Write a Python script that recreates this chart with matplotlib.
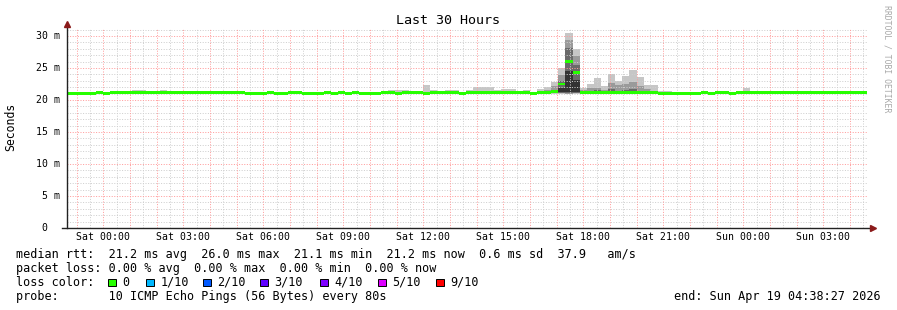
import matplotlib
matplotlib.use("Agg")
import numpy as np
import matplotlib.pyplot as plt
from matplotlib.patches import Rectangle

plt.rcParams["font.family"] = ["DejaVu Sans Mono", "DejaVu Sans"]

# --- data (x in hours relative to Sat 00:00, 16 min consolidation bins) ---
BIN_H = 16 / 60
X_START = -(1 + 21 / 60 + 33 / 3600)      # Fri 22:38:27
X_END = X_START + 30                        # Sun 04:38:27

bin_index = list(range(-6, 108))

median_ms = [
    21.0, 21.0, 21.0, 21.0, 21.0, 21.2, 21.0, 21.2, 21.2, 21.2,
    21.2, 21.2, 21.2, 21.2, 21.2, 21.2, 21.2, 21.2, 21.2, 21.2,
    21.2, 21.2, 21.2, 21.2, 21.2, 21.2, 21.0, 21.0, 21.0, 21.2,
    21.0, 21.0, 21.2, 21.2, 21.0, 21.0, 21.0, 21.2, 21.0, 21.2,
    21.0, 21.2, 21.0, 21.0, 21.0, 21.2, 21.2, 21.0, 21.2, 21.2,
    21.2, 21.0, 21.2, 21.2, 21.2, 21.2, 21.0, 21.2, 21.2, 21.2,
    21.2, 21.2, 21.2, 21.2, 21.2, 21.2, 21.0, 21.2, 21.2, 21.4,
    22.5, 26.0, 24.3, 21.2, 21.2, 21.2, 21.2, 21.2, 21.2, 21.2,
    21.2, 21.2, 21.2, 21.2, 21.0, 21.0, 21.0, 21.0, 21.0, 21.0,
    21.2, 21.0, 21.2, 21.2, 21.0, 21.2, 21.2, 21.2, 21.2, 21.2,
    21.2, 21.2, 21.2, 21.2, 21.2, 21.2, 21.2, 21.2, 21.2, 21.2,
    21.2, 21.2, 21.2, 21.2,
]

smoke_min = [
    21.0, 21.0, 21.0, 21.0, 21.0, 21.2, 21.0, 21.2, 21.2, 21.2,
    21.2, 21.2, 21.2, 21.2, 21.2, 21.2, 21.2, 21.2, 21.2, 21.2,
    21.2, 21.2, 21.2, 21.2, 21.2, 21.2, 21.0, 21.0, 21.0, 21.2,
    21.0, 21.0, 21.2, 21.2, 21.0, 21.0, 21.0, 21.2, 21.0, 21.2,
    21.0, 21.2, 21.0, 21.0, 21.0, 21.2, 21.2, 21.0, 21.2, 21.2,
    21.2, 21.0, 21.2, 21.2, 21.2, 21.2, 21.0, 21.2, 21.2, 21.2,
    21.2, 21.2, 21.0, 21.0, 21.0, 21.0, 21.0, 21.0, 21.0, 20.95,
    20.95, 20.9, 20.95, 21.0, 21.0, 21.0, 21.0, 21.0, 21.0, 21.0,
    21.0, 21.0, 21.0, 21.0, 21.0, 21.0, 21.0, 21.0, 21.0, 21.0,
    21.2, 21.0, 21.2, 21.2, 21.0, 21.2, 21.2, 21.2, 21.2, 21.2,
    21.2, 21.2, 21.2, 21.2, 21.2, 21.2, 21.2, 21.2, 21.2, 21.2,
    21.2, 21.2, 21.2, 21.2,
]

smoke_max = [
    21.0, 21.0, 21.0, 21.0, 21.0, 21.2, 21.0, 21.2, 21.2, 21.2,
    21.5, 21.5, 21.2, 21.2, 21.5, 21.2, 21.2, 21.2, 21.2, 21.2,
    21.2, 21.2, 21.2, 21.2, 21.2, 21.2, 21.0, 21.0, 21.0, 21.2,
    21.0, 21.0, 21.2, 21.2, 21.0, 21.0, 21.0, 21.2, 21.0, 21.2,
    21.0, 21.2, 21.0, 21.0, 21.0, 21.2, 21.5, 21.5, 21.5, 21.2,
    21.2, 22.3, 21.5, 21.2, 21.5, 21.5, 21.0, 21.6, 22.1, 22.1,
    22.0, 21.5, 21.7, 21.7, 21.45, 21.55, 21.3, 21.7, 22.1, 22.8,
    25.0, 30.5, 28.0, 21.8, 22.5, 23.4, 22.2, 24.1, 23.0, 23.75,
    24.7, 23.65, 22.35, 22.3, 21.45, 21.45, 21.0, 21.0, 21.0, 21.0,
    21.2, 21.0, 21.2, 21.2, 21.0, 21.4, 21.8, 21.2, 21.2, 21.2,
    21.2, 21.2, 21.2, 21.2, 21.2, 21.2, 21.2, 21.2, 21.2, 21.2,
    21.2, 21.2, 21.2, 21.2,
]

mid_bins = [56, 57, 61, 62, 63, 64, 65, 66, 67, 68, 69, 70, 71, 72, 73, 74, 75, 76]
mid_lo = [21.1, 21.1, 21.1, 21.1, 21.05, 21.05, 21.0, 21.05, 21.1, 21.1,
          21.1, 21.1, 21.1, 21.1, 21.1, 21.1, 21.1, 21.1]
mid_hi = [21.45, 21.45, 21.4, 21.6, 22.2, 23.95, 29.4, 26.8, 21.5, 21.8,
          21.95, 21.6, 22.6, 22.3, 22.5, 22.8, 22.2, 21.7]

dark_bins = [63, 64, 65, 66, 69, 71, 73, 74]
dark_lo = [21.15, 21.15, 21.1, 21.15, 21.15, 21.2, 21.2, 21.2]
dark_hi = [21.6, 22.9, 28.1, 25.5, 21.5, 21.7, 21.6, 21.7]

black_bins = [64, 65, 66]
black_lo = [21.3, 21.25, 21.3]
black_hi = [21.9, 24.5, 23.2]

tick_hours = [0, 3, 6, 9, 12, 15, 18, 21, 24, 27]
tick_labels = ["Sat 00:00", "Sat 03:00", "Sat 06:00", "Sat 09:00", "Sat 12:00",
               "Sat 15:00", "Sat 18:00", "Sat 21:00", "Sun 00:00", "Sun 03:00"]
y_ticks = [0, 5, 10, 15, 20, 25, 30]
y_labels = ["0  ", "5 m", "10 m", "15 m", "20 m", "25 m", "30 m"]

loss_labels = ["0", "1/10", "2/10", "3/10", "4/10", "5/10", "9/10"]
loss_colors = ["#26ff00", "#00b8ff", "#0059ff", "#5e00ff", "#7e00ff", "#dd00ff", "#ff0000"]
loss_box_x = [108, 146, 203, 260, 320, 378, 436]

W, H = 897, 310
GREEN = "#26ff00"

fig = plt.figure(figsize=(W / 100, H / 100), dpi=100)
fig.patch.set_facecolor("white")
ax = fig.add_axes([67 / W, 82 / H, 800 / W, 200 / H])
ax.set_xlim(X_START, X_END)
ax.set_ylim(0, 31.25)
ax.axis("off")


def bins_x(idx):
    return np.array(idx) * BIN_H


# smoke layers
ax.bar(bins_x(bin_index), np.array(smoke_max) - np.array(smoke_min), bottom=smoke_min,
       width=BIN_H, align="edge", color="#c6c6c6", linewidth=0, zorder=1)
ax.bar(bins_x(mid_bins), np.array(mid_hi) - np.array(mid_lo), bottom=mid_lo,
       width=BIN_H, align="edge", color="#9a9a9a", linewidth=0, zorder=1.1)
ax.bar(bins_x(dark_bins), np.array(dark_hi) - np.array(dark_lo), bottom=dark_lo,
       width=BIN_H, align="edge", color="#6a6a6a", linewidth=0, zorder=1.2)
ax.bar(bins_x(black_bins), np.array(black_hi) - np.array(black_lo), bottom=black_lo,
       width=BIN_H, align="edge", color="#333333", linewidth=0, zorder=1.3)

# grid, dotted
dots = (0, (1, 1.6))
grid_kw = dict(lw=0.72, ls=dots)
for v in range(1, 32):
    if v % 5:
        ax.axhline(v, color="#cfcfcf", zorder=1.5, **grid_kw)
for v in range(5, 31, 5):
    ax.axhline(v, color="#ff9c9c", zorder=1.6, **grid_kw)
for k in range(-2, 58):
    h = k * 0.5
    if X_START < h < X_END:
        if k % 2:
            ax.axvline(h, color="#cfcfcf", zorder=1.5, **grid_kw)
        else:
            ax.axvline(h, color="#ff9c9c", zorder=1.6, **grid_kw)

# median line (drawn as thin bars like smokeping)
ax.bar(bins_x(bin_index), 0.46, bottom=np.array(median_ms) - 0.23, width=BIN_H,
       align="edge", color=GREEN, linewidth=0, zorder=3)

# axes with arrows
ax.plot([0, 0], [0, 1.025], transform=ax.transAxes, color="#222222", lw=1.0,
        clip_on=False, zorder=4)
ax.plot([-5 / 800, 1 + 3 / 800], [0, 0], transform=ax.transAxes, color="#222222",
        lw=1.0, clip_on=False, zorder=4)
ax.plot([0], [1.02], marker="^", ms=4.5, color="#8b1a1a", transform=ax.transAxes,
        clip_on=False, zorder=5)
ax.plot([1 + 6 / 800], [0], marker=">", ms=4.5, color="#8b1a1a", transform=ax.transAxes,
        clip_on=False, zorder=5)

# tick labels
for h, lab in zip(tick_hours, tick_labels):
    ax.text(h, -0.047, lab, transform=ax.get_xaxis_transform(), ha="center",
            va="center", fontsize=7.1, color="#000000")
for v, lab in zip(y_ticks, y_labels):
    ax.text(-7 / 800, v, lab, transform=ax.get_yaxis_transform(), ha="right",
            va="center", fontsize=7.1, color="#000000")

# titles
fig.text(448 / W, 1 - 20 / H, "Last 30 Hours", ha="center", va="center", fontsize=9.6)
fig.text(11 / W, 1 - 127 / H, "Seconds", rotation=90, ha="center", va="center",
         fontsize=8.3)
fig.text(887 / W, 1 - 5 / H, "RRDTOOL / TOBI OETIKER", rotation=270, ha="center",
         va="top", fontsize=5.9, color="#a8a8a8")

# legend
LEG = 8.45
fig.text(16 / W, 1 - 254.3 / H,
         "median rtt:  21.2 ms avg  26.0 ms max  21.1 ms min  21.2 ms now  0.6 ms sd  37.9   am/s",
         ha="left", va="center", fontsize=LEG)
fig.text(16 / W, 1 - 268.3 / H,
         "packet loss: 0.00 % avg  0.00 % max  0.00 % min  0.00 % now",
         ha="left", va="center", fontsize=LEG)
fig.text(16 / W, 1 - 282.3 / H, "loss color:", ha="left", va="center", fontsize=LEG)
for bx, lab, col in zip(loss_box_x, loss_labels, loss_colors):
    fig.patches.append(Rectangle((bx / W, 1 - 286 / H), 7.5 / W, 7.5 / H,
                                 transform=fig.transFigure, facecolor=col,
                                 edgecolor="black", lw=0.7))
    fig.text((bx + 14.5) / W, 1 - 282.3 / H, lab, ha="left", va="center", fontsize=LEG)
fig.text(16 / W, 1 - 296.3 / H, "probe:       10 ICMP Echo Pings (56 Bytes) every 80s",
         ha="left", va="center", fontsize=LEG)
fig.text(881 / W, 1 - 296.3 / H, "end: Sun Apr 19 04:38:27 2026", ha="right",
         va="center", fontsize=LEG)

fig.savefig("out.png", dpi=100, facecolor="white")
